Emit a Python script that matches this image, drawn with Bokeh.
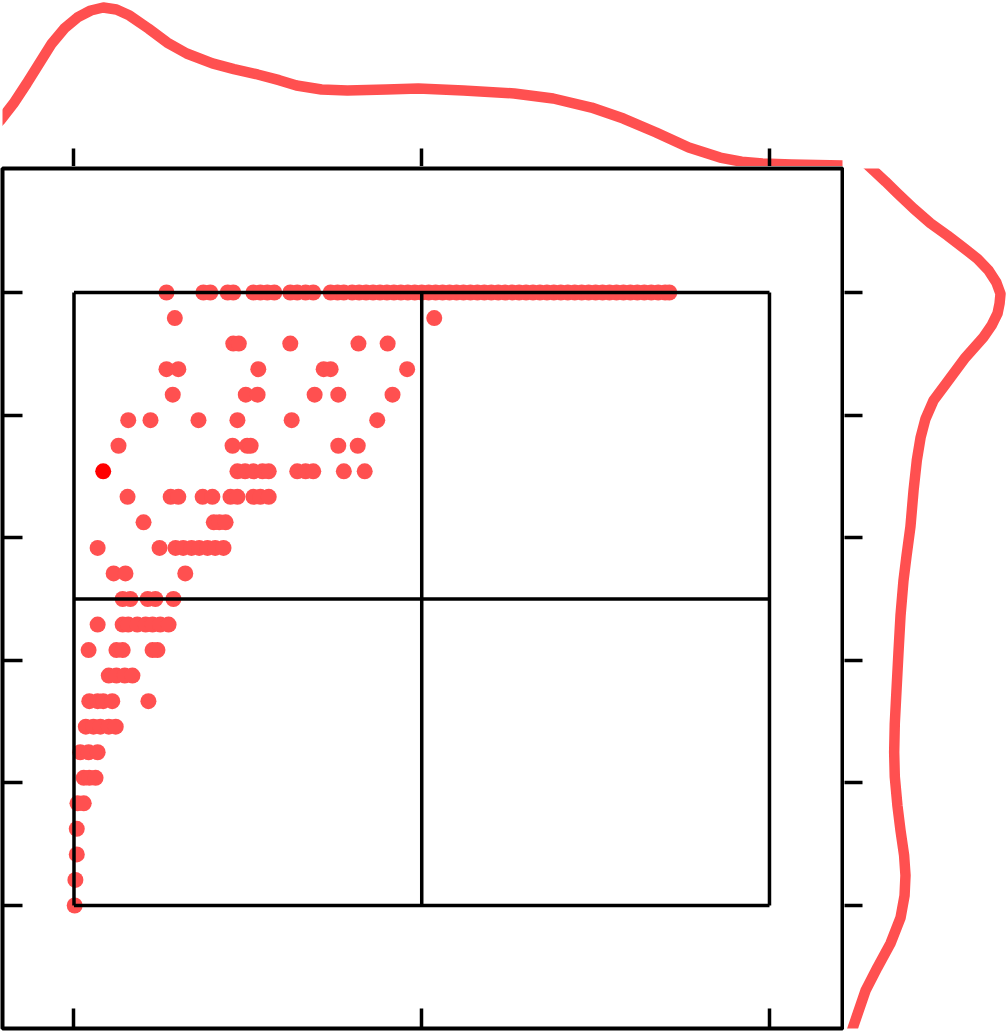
from bokeh.plotting import figure
from bokeh.layouts import gridplot
from bokeh.models import Range1d, FixedTicker
from bokeh.embed import file_html
from bokeh.resources import INLINE

# ---------------- data ----------------
x_ticks = [0, 0.5, 1]
y_ticks = [0, 0.2, 0.4, 0.6, 0.8, 1.0]
grid_x = [0, 0.5, 1]
grid_y = [0, 0.5, 1]

row_levels = [1.0, 0.9583, 0.9167, 0.875, 0.8333, 0.7917, 0.75, 0.7083, 0.6667,
              0.625, 0.5833, 0.5417, 0.5, 0.4583, 0.4167, 0.375, 0.3333, 0.2917,
              0.25, 0.2083, 0.1667, 0.125, 0.0833, 0.0417, 0.0]

row_x = [
    [0.133, 0.186, 0.196, 0.221, 0.229, 0.258, 0.268, 0.278, 0.288, 0.311, 0.321,
     0.333, 0.344, 0.369, 0.379, 0.388, 0.40, 0.41, 0.42, 0.43, 0.44, 0.45, 0.46,
     0.47, 0.48, 0.49, 0.50, 0.51, 0.52, 0.53, 0.54, 0.55, 0.56, 0.57, 0.58, 0.59,
     0.60, 0.61, 0.62, 0.63, 0.64, 0.65, 0.66, 0.67, 0.68, 0.69, 0.70, 0.71, 0.72,
     0.73, 0.74, 0.75, 0.76, 0.77, 0.78, 0.79, 0.80, 0.81, 0.82, 0.83, 0.84, 0.85,
     0.856],
    [0.145, 0.518],
    [0.229, 0.237, 0.311, 0.409, 0.451],
    [0.133, 0.150, 0.265, 0.359, 0.369, 0.479],
    [0.142, 0.247, 0.264, 0.346, 0.380, 0.458],
    [0.078, 0.110, 0.179, 0.235, 0.313, 0.436],
    [0.064, 0.228, 0.249, 0.254, 0.380, 0.408],
    [0.235, 0.246, 0.258, 0.271, 0.280, 0.321, 0.333, 0.344, 0.388, 0.418],
    [0.077, 0.139, 0.150, 0.185, 0.199, 0.225, 0.235, 0.258, 0.268, 0.280],
    [0.100, 0.201, 0.209, 0.218],
    [0.034, 0.123, 0.146, 0.157, 0.169, 0.180, 0.192, 0.203, 0.215],
    [0.057, 0.074, 0.160],
    [0.070, 0.081, 0.106, 0.117, 0.143],
    [0.034, 0.070, 0.078, 0.091, 0.103, 0.113, 0.124, 0.136],
    [0.021, 0.061, 0.070, 0.113, 0.120],
    [0.050, 0.061, 0.073, 0.084],
    [0.022, 0.034, 0.042, 0.055, 0.107],
    [0.017, 0.028, 0.038, 0.050, 0.060],
    [0.009, 0.021, 0.034],
    [0.014, 0.022, 0.031],
    [0.005, 0.014],
    [0.004],
    [0.004],
    [0.002],
    [0.001],
]

highlight_x = [0.042]
highlight_y = [0.7083]

top_x = [-0.12, -0.106, -0.087, -0.068, -0.050, -0.032, -0.014, 0.005, 0.024, 0.042,
         0.061, 0.080, 0.107, 0.134, 0.162, 0.199, 0.230, 0.264, 0.295, 0.320, 0.356,
         0.393, 0.449, 0.495, 0.560, 0.633, 0.689, 0.744, 0.790, 0.837, 0.884, 0.929,
         0.960, 0.990, 1.032, 1.105, 1.12]
top_d = [0.22, 0.285, 0.392, 0.519, 0.646, 0.772, 0.867, 0.937, 0.981, 1.0,
         0.987, 0.949, 0.867, 0.778, 0.709, 0.646, 0.610, 0.576, 0.540, 0.506, 0.481,
         0.475, 0.481, 0.487, 0.475, 0.456, 0.424, 0.367, 0.297, 0.209, 0.114, 0.050,
         0.024, 0.013, 0.006, 0.0, 0.0]

right_y = [1.219, 1.199, 1.181, 1.162, 1.137, 1.113, 1.093, 1.073, 1.055, 1.036, 1.016,
           0.998, 0.982, 0.966, 0.946, 0.927, 0.894, 0.850, 0.824, 0.794, 0.763, 0.726,
           0.677, 0.618, 0.571, 0.530, 0.473, 0.414, 0.351, 0.297, 0.250, 0.210, 0.163,
           0.122, 0.082, 0.049, 0.016, -0.020, -0.062, -0.101, -0.139, -0.196, -0.212]
right_d = [0.097, 0.181, 0.258, 0.335, 0.439, 0.548, 0.658, 0.761, 0.852, 0.923, 0.974,
           1.0, 0.994, 0.981, 0.942, 0.890, 0.774, 0.645, 0.568, 0.516, 0.484, 0.460,
           0.439, 0.419, 0.394, 0.374, 0.355, 0.342, 0.329, 0.318, 0.314, 0.318, 0.335,
           0.355, 0.378, 0.387, 0.381, 0.355, 0.290, 0.206, 0.129, 0.052, 0.032]

# ---------------- styles ----------------
RED = "#ff5050"
HI = "#ff0000"
KDE_W = 10.5


def style_axis(ax, ticks, tick_in):
    ax.ticker = FixedTicker(ticks=ticks)
    ax.major_tick_in = tick_in
    ax.major_tick_out = 0
    ax.major_tick_line_width = 3.5
    ax.major_tick_line_color = "black"
    ax.minor_tick_line_color = None
    ax.axis_line_color = None
    ax.major_label_text_font_size = "0px"
    ax.major_label_text_color = None
    ax.major_label_standoff = 0
    ax.axis_label = None


common = dict(output_backend="svg", toolbar_location=None,
              background_fill_color="white", border_fill_color="white")

x_rng = Range1d(-0.1028, 1.1050)
y_rng = Range1d(-0.2007, 1.2023)

# main scatter
main = figure(frame_width=840, frame_height=860, x_range=x_rng, y_range=y_rng,
              min_border_left=2, min_border_right=2, min_border_top=2,
              min_border_bottom=3, outline_line_color="black",
              outline_line_width=4, **common)
main.grid.visible = False
style_axis(main.xaxis[0], x_ticks, 20)
style_axis(main.yaxis[0], y_ticks, 20)

xs, ys = [], []
for lvl, row in zip(row_levels, row_x):
    for v in row:
        xs.append(v)
        ys.append(lvl)
main.scatter(xs, ys, size=16, fill_color=RED, line_color=None)
main.scatter(highlight_x, highlight_y, size=16, fill_color=HI, line_color=None)

gx0 = [grid_y[0]] * len(grid_x)
gx1 = [grid_y[-1]] * len(grid_x)
main.segment(x0=grid_x, y0=gx0, x1=grid_x, y1=gx1, line_color="black", line_width=3.5)
gy0 = [grid_x[0]] * len(grid_y)
gy1 = [grid_x[-1]] * len(grid_y)
main.segment(x0=gy0, y0=grid_y, x1=gy1, y1=grid_y, line_color="black", line_width=3.5)

# top marginal
top = figure(frame_width=840, frame_height=166, x_range=x_rng,
             y_range=Range1d(-0.0063, 1.0443), y_axis_location=None,
             min_border_left=2, min_border_right=2, min_border_top=0,
             min_border_bottom=0, outline_line_color=None, **common)
top.grid.visible = False
style_axis(top.xaxis[0], x_ticks, 18)
top.line(top_x, top_d, line_color=RED, line_width=KDE_W, line_join="round")

# right marginal
right = figure(frame_width=164, frame_height=860, y_range=y_rng,
               x_range=Range1d(-0.00645, 1.0516), x_axis_location=None,
               min_border_left=0, min_border_right=0, min_border_top=2,
               min_border_bottom=3, outline_line_color=None, **common)
right.grid.visible = False
style_axis(right.yaxis[0], y_ticks, 18)
right.line(right_d, right_y, line_color=RED, line_width=KDE_W, line_join="round")

p = gridplot([[top, None], [main, right]], toolbar_location=None)

html = file_html(p, INLINE)
html = html.replace("<head>", "<head><style>html,body{margin:0;padding:0;}</style>", 1)
open("out.html", "w").write(html)
